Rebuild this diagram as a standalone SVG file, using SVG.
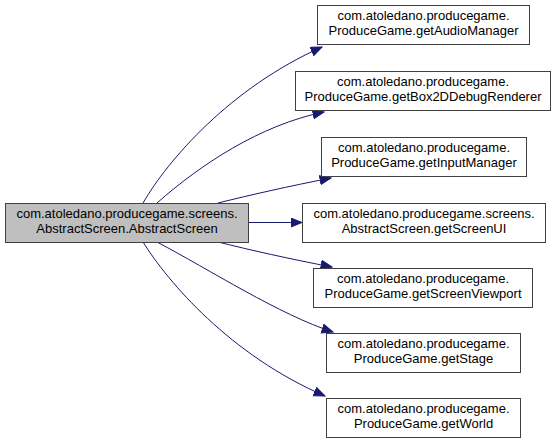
<svg xmlns="http://www.w3.org/2000/svg" width="556" height="444" viewBox="0 0 556 444">
<defs>
<marker id="ah" markerUnits="userSpaceOnUse" markerWidth="14" markerHeight="11" refX="11.5" refY="5" orient="auto">
<path d="M0.5,0.5 L11.5,5 L0.5,9.5 z" fill="#191970" stroke="#191970" stroke-width="1"/>
</marker>
</defs>
<style>
.n rect{fill:#fff;stroke:#404040;stroke-width:1}
#main rect{fill:#bfbfbf}
.n text{font-family:"Liberation Sans",Arial,sans-serif;font-size:13px;fill:#000;text-anchor:middle}
#edges path{fill:none;stroke:#191970;stroke-width:1;marker-end:url(#ah)}
</style>
<rect width="556" height="444" fill="#fff"/>
<g id="edges">
<path d="M143,203 C168,160 230,88 322,47"/>
<path d="M157,203 C200,165 260,125 324,112"/>
<path d="M218,203 C250,195 290,186 331,178"/>
<path d="M248,222.5 L302,222.5"/>
<path d="M218,242 C250,250 290,259 332,267"/>
<path d="M157,242 C210,270 280,315 333,332"/>
<path d="M143,242 C168,282 230,355 325,396"/>
</g>
<g id="main" class="n">
<rect x="5.5" y="203.5" width="243" height="39"/>
<text x="127" y="218">com.atoledano.producegame.screens.</text>
<text x="127" y="232.5">AbstractScreen.AbstractScreen</text>
</g>
<g id="n1" class="n">
<rect x="317.5" y="5.5" width="212" height="39"/>
<text x="423.5" y="20">com.atoledano.producegame.</text>
<text x="423.5" y="34.5">ProduceGame.getAudioManager</text>
</g>
<g id="n2" class="n">
<rect x="295.5" y="71.5" width="255" height="39"/>
<text x="423" y="86">com.atoledano.producegame.</text>
<text x="423" y="100.5">ProduceGame.getBox2DDebugRenderer</text>
</g>
<g id="n3" class="n">
<rect x="321.5" y="137.5" width="205" height="39"/>
<text x="424" y="152">com.atoledano.producegame.</text>
<text x="424" y="166.5">ProduceGame.getInputManager</text>
</g>
<g id="n4" class="n">
<rect x="302.5" y="203.5" width="243" height="39"/>
<text x="424" y="218">com.atoledano.producegame.screens.</text>
<text x="424" y="232.5">AbstractScreen.getScreenUI</text>
</g>
<g id="n5" class="n">
<rect x="313.5" y="268.5" width="219" height="39"/>
<text x="423" y="283">com.atoledano.producegame.</text>
<text x="423" y="297.5">ProduceGame.getScreenViewport</text>
</g>
<g id="n6" class="n">
<rect x="326.5" y="333.5" width="194" height="39"/>
<text x="423.5" y="348">com.atoledano.producegame.</text>
<text x="423.5" y="362.5">ProduceGame.getStage</text>
</g>
<g id="n7" class="n">
<rect x="326.5" y="398.5" width="194" height="39"/>
<text x="423.5" y="413">com.atoledano.producegame.</text>
<text x="423.5" y="427.5">ProduceGame.getWorld</text>
</g>
</svg>
